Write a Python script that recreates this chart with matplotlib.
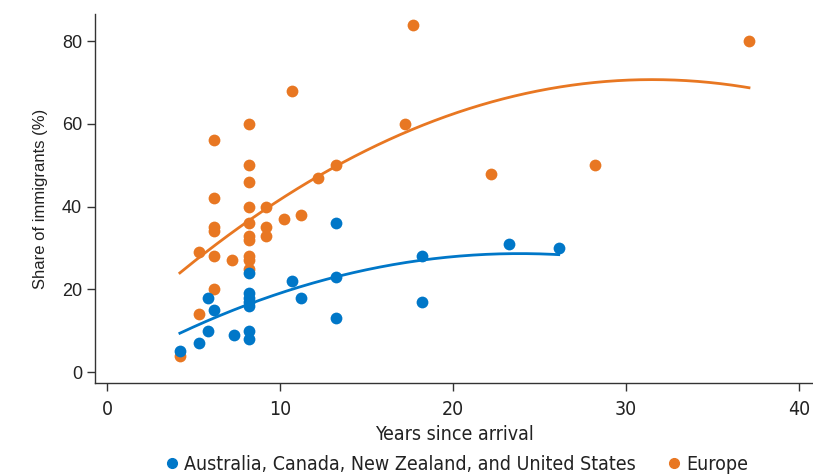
import numpy as np
import matplotlib
matplotlib.use("Agg")
import matplotlib.pyplot as plt
from matplotlib.lines import Line2D

# Data
blue_label = "Australia, Canada, New Zealand, and United States"
orange_label = "Europe"
blue_x = [4.2, 5.3, 5.8, 5.8, 6.2, 7.3, 8.2, 8.2, 8.2, 8.2, 8.2, 8.2, 8.2,
          10.7, 11.2, 13.2, 13.2, 13.2, 18.2, 18.2, 23.2, 26.1]
blue_y = [5, 7, 18, 10, 15, 9, 24, 19, 18, 17, 16, 10, 8,
          22, 18, 36, 23, 13, 28, 17, 31, 30]
orange_x = [4.2, 5.3, 5.3, 6.2, 6.2, 6.2, 6.2, 6.2, 6.2, 7.2,
            8.2, 8.2, 8.2, 8.2, 8.2, 8.2, 8.2, 8.2, 8.2, 8.2,
            9.2, 9.2, 9.2, 10.2, 10.7, 11.2, 12.2, 13.2, 17.2, 17.7,
            22.2, 28.2, 37.1]
orange_y = [4, 29, 14, 56, 42, 35, 34, 28, 20, 27,
            60, 50, 46, 40, 36, 33, 32, 28, 27, 25,
            40, 35, 33, 37, 68, 38, 47, 50, 60, 84,
            48, 50, 80]
# quadratic fit coefficients (c2, c1, c0)
blue_fit = [-0.0499, 2.379, 0.29]
orange_fit = [-0.0627, 3.950, 8.49]
x_ticks = [0, 10, 20, 30, 40]
y_ticks = [0, 20, 40, 60, 80]

BLUE = "#0077c8"
ORANGE = "#e87722"
TXT = "#222222"

REG = ["Liberation Sans", "DejaVu Sans"]
COND = ["DejaVu Sans"]

fig = plt.figure(figsize=(8.13, 4.75), dpi=100)
ax = fig.add_axes([0.117, 0.194, 0.883, 0.776])

ax.scatter(orange_x, orange_y, s=72, color=ORANGE, zorder=3, linewidths=0)
ax.scatter(blue_x, blue_y, s=72, color=BLUE, zorder=3, linewidths=0)

xb = np.linspace(min(blue_x), max(blue_x), 200)
ax.plot(xb, np.polyval(blue_fit, xb), color=BLUE, lw=2.0, zorder=4)
xo = np.linspace(min(orange_x), max(orange_x), 200)
ax.plot(xo, np.polyval(orange_fit, xo), color=ORANGE, lw=2.0, zorder=4)

ax.set_xlim(-0.7, 40.8)
ax.set_ylim(-2.6, 86.5)
ax.set_xticks(x_ticks)
ax.set_yticks(y_ticks)
for s in ["top", "right"]:
    ax.spines[s].set_visible(False)
for s in ["left", "bottom"]:
    ax.spines[s].set_color("#333333")
    ax.spines[s].set_linewidth(1.0)
ax.tick_params(axis="both", direction="out", length=6, width=1, color="#333333",
               labelcolor=TXT)
ax.tick_params(axis="x", pad=6)
for lab in ax.get_yticklabels():
    lab.set_fontfamily(REG)
    lab.set_fontsize(13)
for lab in ax.get_xticklabels():
    lab.set_fontfamily(COND)
    lab.set_fontstretch("condensed")
    lab.set_fontsize(14)

ax.set_ylabel("Share of immigrants (%)", fontfamily=REG, fontsize=12, color=TXT,
              labelpad=10)
ax.set_xlabel("Years since arrival", fontfamily=COND, fontstretch="condensed",
              fontsize=14, color=TXT, labelpad=5)

handles = [Line2D([], [], marker="o", ls="", color=BLUE, markersize=7, label=blue_label),
           Line2D([], [], marker="o", ls="", color=ORANGE, markersize=7, label=orange_label)]
leg = ax.legend(handles=handles, loc="center", bbox_to_anchor=(0.5, -0.222), ncol=2,
                frameon=False,
                prop={"family": COND, "size": 14, "stretch": "condensed"},
                handletextpad=0.0, columnspacing=1.4, handlelength=1.2,
                borderpad=0.0)
for t in leg.get_texts():
    t.set_color(TXT)

fig.savefig("out.png", dpi=100)
